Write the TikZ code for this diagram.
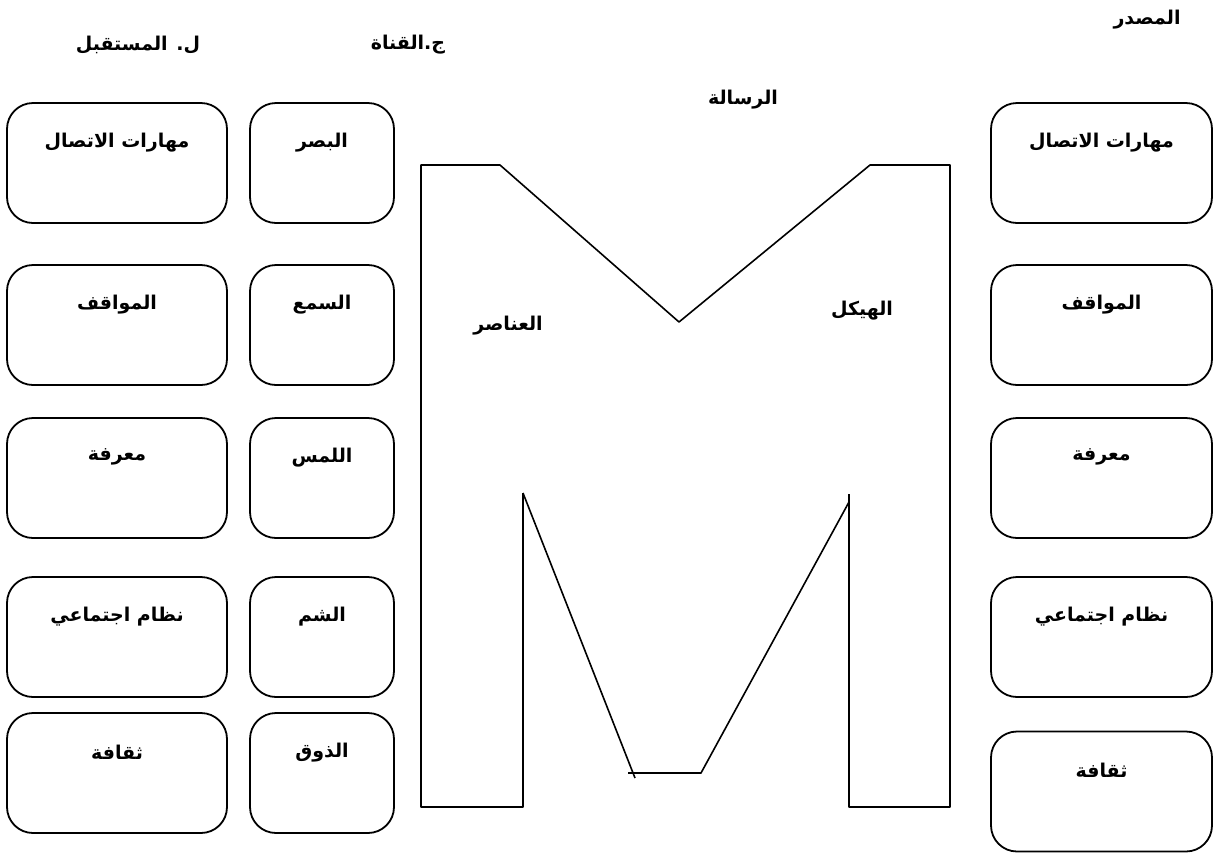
\documentclass[tikz,border=0pt]{standalone}
\usepackage{fontspec}
\newfontfamily\arabicfont[Script=Arabic, BoldFont={DejaVu Sans Bold}]{DejaVu Sans}
\TeXXeTstate=1
% right-to-left bold label text
\newcommand{\artxt}[1]{\beginR #1\endR}

\begin{document}
\begin{tikzpicture}[
    x=1pt, y=-1pt,
    line join=round,
    every node/.style={font=\arabicfont\bfseries\fontsize{19}{22}\selectfont},
    rbox/.style={draw, line width=1.8pt, rounded corners=26pt,
        minimum height=120pt, inner sep=0pt},
    wide/.style={rbox, minimum width=220pt},
    narrow/.style={rbox, minimum width=144pt},
    top/.style={anchor=center, yshift=-40pt},
    mline/.style={line width=1.6pt},
]
\useasboundingbox (0,0) rectangle (1215,855);

% ---------- column headings ----------
\node (src)  at (1147,20)  {\artxt{المصدر}};
\node (chan) at (408,45)   {\artxt{ج.القناة}};
\node (recv) at (138,45)   {\artxt{ل. المستقبل}};
\node (msg)  at (743,100)  {\artxt{الرسالة}};

% ---------- receiver (left) ----------
\foreach \n/\yy/\txt in {1/163/{مهارات الاتصال}, 2/325/{المواقف}, 3/478/{معرفة},
                         4/637/{نظام اجتماعي}, 5/773/{ثقافة}}{
    \node[wide, label={[top]north:\artxt{\txt}}] (recv\n) at (117,\yy) {};
}

% ---------- channel: the senses ----------
\foreach \n/\yy/\txt in {1/163/{البصر}, 2/325/{السمع}, 3/478/{اللمس},
                         4/637/{الشم}, 5/773/{الذوق}}{
    \node[narrow, label={[top]north:\artxt{\txt}}] (sense\n) at (322,\yy) {};
}

% ---------- source (right) ----------
\foreach \n/\yy/\txt in {1/163/{مهارات الاتصال}, 2/325/{المواقف}, 3/478/{معرفة},
                         4/637/{نظام اجتماعي}, 5/791.5/{ثقافة}}{
    \node[wide, minimum width=221pt, label={[top]north:\artxt{\txt}}] (src\n) at (1101.5,\yy) {};
}

% ---------- the message: a big M ----------
\draw[mline]
    (523,493) -- (523,807) -- (421,807) -- (421,165) -- (500,165)
    -- (679,322) -- (870,165) -- (950,165) -- (950,807) -- (849,807) -- (849,494);
\draw[mline] (523,493) -- (635,778);
\draw[mline] (628,773) -- (701,773) -- (849,502);

\node (elem)   at (508,326) {\artxt{العناصر}};
\node (struct) at (862,311) {\artxt{الهيكل}};

\end{tikzpicture}
\end{document}
